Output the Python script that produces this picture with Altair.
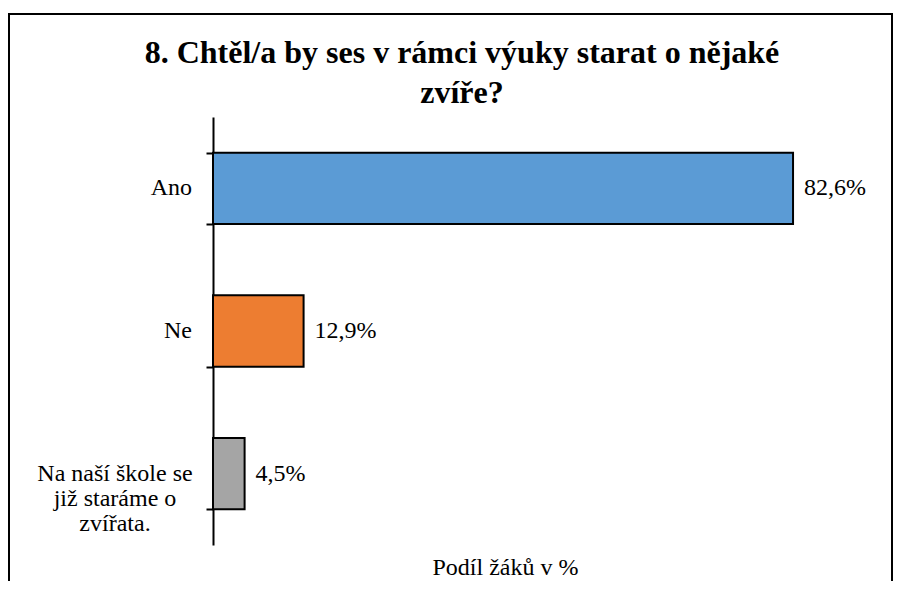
import altair as alt
import pandas as pd

categories = ["Ano", "Ne", "Na naší škole se již staráme o zvířata."]
values = [82.6, 12.9, 4.5]
value_labels = ["82,6%", "12,9%", "4,5%"]
colors = ["#5B9BD5", "#ED7D31", "#A5A5A5"]
label_lines = [["Ano"], ["Ne"], ["Na naší škole se", "již staráme o", "zvířata."]]
title_lines = ["8. Chtěl/a by ses v rámci výuky starat o nějaké", "zvíře?"]
x_title = "Podíl žáků v %"

df = pd.DataFrame({
    "cat": categories,
    "val": values,
    "lab": value_labels,
    "multi": [len(l) > 1 for l in label_lines],
})
df["lines"] = label_lines

title_df = pd.DataFrame({"k": [0]})
title_df["t"] = [title_lines]

FONT = "'Liberation Serif', 'Times New Roman', 'DejaVu Serif', serif"

y_enc = alt.Y("cat:N", sort=categories,
              scale=alt.Scale(paddingInner=0.5, paddingOuter=0.25),
              axis=alt.Axis(labels=False, title=None, domainColor="black",
                            domainWidth=2, tickColor="black", tickWidth=2,
                            tickSize=7, tickBand="extent", grid=False))
x_enc = alt.X("val:Q", scale=alt.Scale(domain=[0, 90], nice=False),
              axis=alt.Axis(labels=False, ticks=False, domain=False, grid=False,
                            title=x_title, titleFont=FONT,
                            titleFontSize=24, titleFontWeight="normal",
                            titleColor="black", titleX=292, titleY=29,
                            titleBaseline="alphabetic"))

base = alt.Chart(df)

bars = base.mark_bar(stroke="black", strokeWidth=2).encode(
    y=y_enc, x=x_enc,
    color=alt.Color("cat:N", scale=alt.Scale(domain=categories, range=colors),
                    legend=None),
)

vals = base.mark_text(align="left", baseline="middle", dx=11, font=FONT,
                      fontSize=24, color="black").encode(
    y=alt.Y("cat:N", sort=categories), x="val:Q", text="lab:N")

single = base.transform_filter("!datum.multi").mark_text(
    align="right", baseline="middle", font=FONT, fontSize=24, color="black"
).encode(y=alt.Y("cat:N", sort=categories), x=alt.value(-21), text="cat:N")

multi = base.transform_filter("datum.multi").mark_text(
    align="center", baseline="middle", font=FONT, fontSize=24, color="black",
    lineHeight=25
).encode(y=alt.Y("cat:N", sort=categories), x=alt.value(-98), text="lines")

frame = base.transform_filter("datum.cat == 'Ano'").mark_rect(
    fill="white", fillOpacity=0, stroke="black", strokeWidth=2
).encode(x=alt.value(-204), x2=alt.value(679), y=alt.value(-103),
         y2=alt.value(480))

title = alt.Chart(title_df).mark_text(
    align="center", baseline="alphabetic", font=FONT, fontSize=32,
    fontWeight="bold", color="black", lineHeight=40
).encode(x=alt.value(249), y=alt.value(-54), text="t")

chart = alt.layer(frame, bars, vals, single, multi, title).properties(
    width=632, height=428,
    autosize=alt.AutoSizeParams(type="none"),
    padding={"left": 205, "top": 109, "right": 49, "bottom": 36},
).configure_view(stroke=None)

chart.save("out.html", embed_options={"renderer": "svg", "actions": False})
